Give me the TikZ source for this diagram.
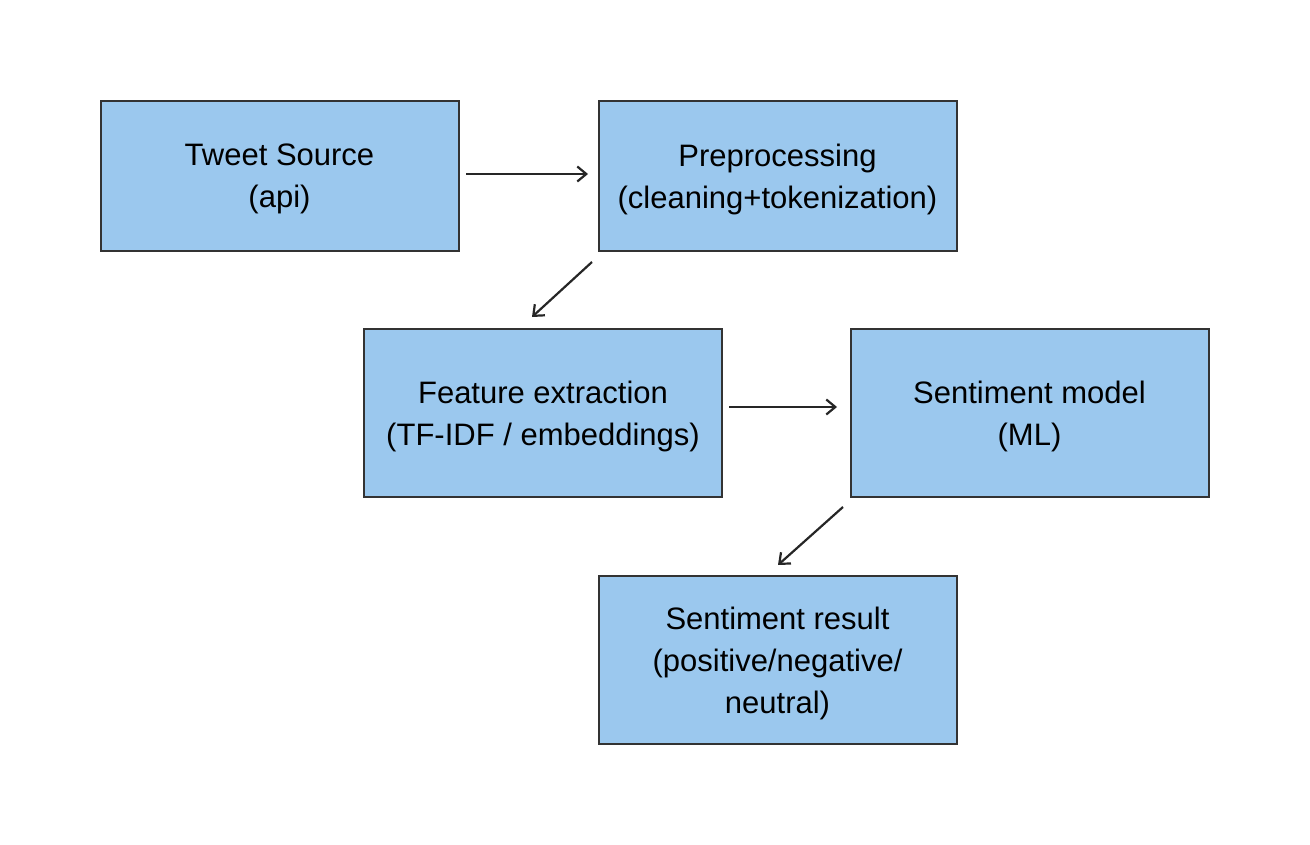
\documentclass[tikz,border=0pt]{standalone}
\usepackage{fontspec}
\setmainfont{Liberation Sans}
\usetikzlibrary{arrows.meta}
\definecolor{boxfill}{HTML}{9BC8EE}
\definecolor{boxline}{HTML}{333333}
\definecolor{arrline}{HTML}{262626}
\begin{document}
\begin{tikzpicture}[x=1pt,y=-1pt,
  stagebox/.style={draw=boxline,line width=2pt,fill=boxfill,minimum width=358pt,
    inner sep=0pt},
  stagetext/.style={label={[align=center,font=\fontsize{31}{42}\selectfont,yshift=-3pt]center:#1}},
  flowarrow/.style={draw=arrline,line width=2.2pt,-{Straight Barb[length=9pt,width=15pt,line width=2.2pt]}}]
\useasboundingbox (0,0) rectangle (1310,845);
\node[stagebox,minimum height=150pt,stagetext={Tweet Source\\(api)}] (src) at (279.5,176) {};
\node[stagebox,minimum height=150pt,stagetext={Preprocessing\\(cleaning+tokenization)}] (pre) at (777.5,176) {};
\node[stagebox,minimum height=168pt,stagetext={Feature extraction\\(TF-IDF / embeddings)}] (feat) at (543,413) {};
\node[stagebox,minimum height=168pt,stagetext={Sentiment model\\(ML)}] (model) at (1029.5,413) {};
\node[stagebox,minimum height=168pt,stagetext={Sentiment result\\(positive/negative/\\neutral)}] (res) at (777.5,660) {};
\coordinate (a1s) at (466,174);
\coordinate (a1e) at (588,174);
\coordinate (a2s) at (592,262);
\coordinate (a2e) at (532,317);
\coordinate (a3s) at (729,407);
\coordinate (a3e) at (837,407);
\coordinate (a4s) at (843,507);
\coordinate (a4e) at (778,565);
\draw[flowarrow] (a1s) -- (a1e);
\draw[flowarrow] (a2s) -- (a2e);
\draw[flowarrow] (a3s) -- (a3e);
\draw[flowarrow] (a4s) -- (a4e);
\end{tikzpicture}
\end{document}
